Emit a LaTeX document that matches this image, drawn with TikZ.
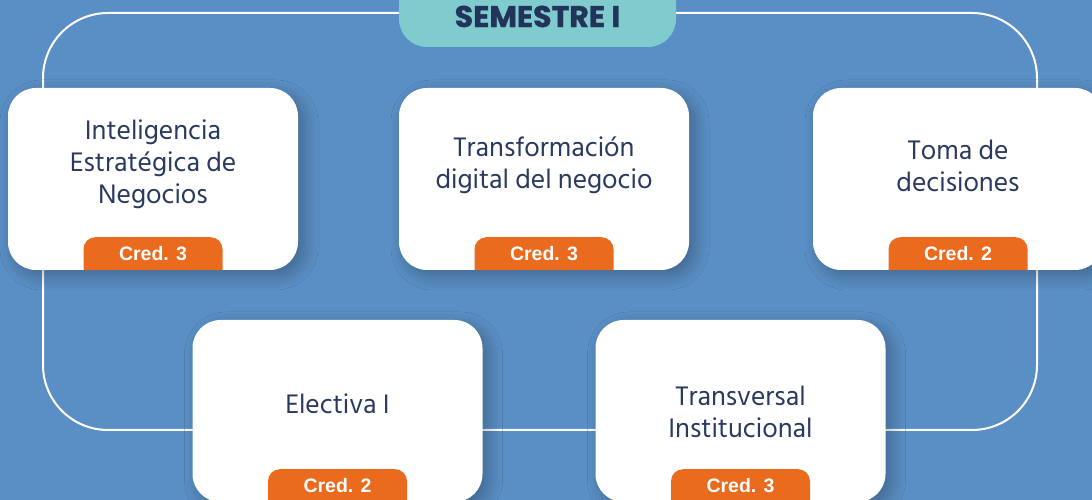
\documentclass[tikz,border=0pt]{standalone}
\usepackage{fontspec}
\newfontfamily\cardfont{Hind Siliguri}
\newfontfamily\credfont{Liberation Sans}
\newfontfamily\titlefont{Poppins}[BoldFeatures={FakeBold=1.2}]
\usetikzlibrary{calc,shadows.blur}

\definecolor{fondo}{RGB}{90,143,197}
\definecolor{turquesa}{RGB}{128,203,205}
\definecolor{marino}{RGB}{34,52,90}
\definecolor{tinta}{RGB}{42,58,95}
\definecolor{naranja}{RGB}{234,106,30}

\tikzset{
  tarjeta/.style={rectangle, fill=white, rounded corners=28pt, minimum width=290pt,
    minimum height=182pt, inner sep=0pt,
    blur shadow={shadow xshift=6pt, shadow yshift=-6pt, shadow blur radius=14pt,
      shadow blur steps=14, shadow opacity=28}},
  texto/.style={text=tinta, font=\cardfont\fontsize{27.5}{32}\selectfont, align=center},
  pestana/.style={fill=naranja, rounded corners=12pt},
  credito/.style={text=white, font=\credfont\bfseries\fontsize{19.5}{22}\selectfont, inner sep=0pt},
}

\begin{document}
\begin{tikzpicture}[x=1pt,y=1pt]

%---------------------------------------------------------------------------------------- FONDO
\fill[fondo] (0,0) rectangle (1092,500);
\useasboundingbox (0,0) rectangle (1092,500);

\draw[white, line width=2pt, rounded corners=65pt] (43,70) rectangle (1037,487);   %------- Marco

%---------------------------------------------------------------------------------------- TITULO
\fill[turquesa, rounded corners=28pt] (399,520) |- (537.5,453) -| (676,520);
\node[font=\titlefont\bfseries\fontsize{30}{30}\selectfont, text=marino] (sem) at (537.5,483.5) {SEMESTRE I};

%---------------------------------------------------------------------------------------- TARJETAS
\node[tarjeta] (c1) at (153,321) {};
\node[tarjeta] (c2) at (544,321) {};
\node[tarjeta] (c3) at (958,321) {};
\node[tarjeta] (c4) at (337.5,89) {};
\node[tarjeta] (c5) at (740.5,89) {};

\node[texto] (t1) at ($(c1.center)+(0,15)$) {Inteligencia\\Estratégica de\\Negocios};   %-------- Nombres
\node[texto] (t2) at ($(c2.center)+(0,14)$) {Transformación\\digital del negocio};
\node[texto] (t3) at ($(c3.center)+(0,13)$) {Toma de\\decisiones};
\node[texto] (t4) at ($(c4.center)+(0,7)$) {Electiva I};
\node[texto] (t5) at ($(c5.center)+(0,-1)$) {Transversal\\Institucional};

%---------------------------------------------------------------------------------------- CREDITOS
\foreach \c/\n in {c1/3, c2/3, c3/2, c4/2, c5/3}{
  \fill[pestana] ($(\c.south)+(-69.5,0)$) |- ($(\c.south)+(0,33)$) -| ($(\c.south)+(69.5,0)$);
  \node[credito] (k\c) at ($(\c.south)+(0,16.5)$) {Cred. \n};
}

\end{tikzpicture}
\end{document}
